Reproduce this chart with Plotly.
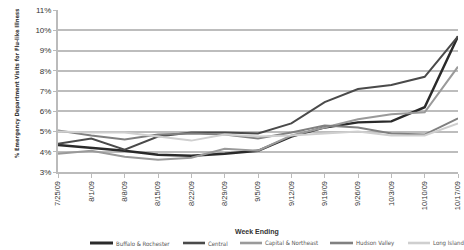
import plotly.graph_objects as go

weeks = ["7/25/09", "8/1/09", "8/8/09", "8/15/09", "8/22/09", "8/29/09", "9/5/09",
         "9/12/09", "9/19/09", "9/26/09", "10/3/09", "10/10/09", "10/17/09"]

buffalo_rochester = [4.33, 4.20, 4.05, 3.85, 3.80, 3.90, 4.05, 4.75, 5.20, 5.45, 5.50, 6.20, 9.70]
central = [4.40, 4.65, 4.10, 4.75, 4.95, 4.95, 4.90, 5.40, 6.45, 7.10, 7.30, 7.70, 9.70]
capital_northeast = [3.90, 4.05, 3.75, 3.60, 3.70, 4.15, 4.05, 4.80, 5.20, 5.60, 5.85, 5.95, 8.20]
hudson_valley = [5.05, 4.80, 4.60, 4.85, 4.90, 4.85, 4.65, 4.95, 5.30, 5.20, 4.90, 4.85, 5.65]
long_island = [5.00, 4.95, 4.95, 4.75, 4.55, 4.85, 4.75, 4.80, 4.90, 5.00, 4.80, 4.80, 5.40]

y_ticks = [3, 4, 5, 6, 7, 8, 9, 10, 11]
y_tick_labels = ["3%", "4%", "5%", "6%", "7%", "8%", "9%", "10%", "11%"]

series = [
    ("Buffalo & Rochester", buffalo_rochester, "#2a2a2a", 2.4),
    ("Central", central, "#4a4a4a", 2.0),
    ("Capital & Northeast", capital_northeast, "#9a9a9a", 2.0),
    ("Hudson Valley", hudson_valley, "#808080", 2.0),
    ("Long Island", long_island, "#cfcfcf", 2.0),
]

W, H = 464, 250
L, R, T, B = 58, 6, 10, 78
pw, ph = W - L - R, H - T - B

def px_x(x):
    return (x - L) / pw

def px_y(y):
    return (H - B - y) / ph

x_idx = list(range(len(weeks)))

fig = go.Figure()
for name, vals, color, w in series:
    fig.add_trace(go.Scatter(x=x_idx, y=vals, mode="lines", name=name,
                             line=dict(color=color, width=w), showlegend=False))

font_family = "Liberation Sans, Arial, sans-serif"
narrow = "Liberation Sans Narrow, DejaVu Sans Condensed, Arial Narrow, sans-serif"

# manual legend (line sample + label), laid out like the reference
legend_x = [(90, 113), (183, 205), (240, 262), (330, 353), (408, 430)]
legend_y = 243
shapes = []
annotations = []
for (name, vals, color, w), (x0, x1) in zip(series, legend_x):
    shapes.append(dict(type="line", xref="paper", yref="paper",
                       x0=px_x(x0), x1=px_x(x1), y0=px_y(legend_y), y1=px_y(legend_y),
                       line=dict(color=color, width=w + 0.6)))
    annotations.append(dict(text=name, xref="paper", yref="paper",
                            x=px_x(x1 + 1), y=px_y(legend_y), xanchor="left", yanchor="middle",
                            showarrow=False, font=dict(family=narrow, size=6, color="#555")))

annotations.append(dict(text="<b>Week Ending</b>", xref="paper", yref="paper",
                        x=px_x(257), y=px_y(232), xanchor="center", yanchor="middle",
                        showarrow=False, font=dict(family=font_family, size=7, color="#333")))
annotations.append(dict(text="<b>% Emergency Department Visits for Flu-like Illness</b>",
                        xref="paper", yref="paper", textangle=-90,
                        x=px_x(17), y=px_y(84), xanchor="center", yanchor="middle",
                        showarrow=False, font=dict(family=narrow, size=5.8, color="#333")))

fig.update_layout(
    width=W, height=H,
    margin=dict(l=L, r=R, t=T, b=B),
    paper_bgcolor="white", plot_bgcolor="white",
    font=dict(family=font_family, size=8, color="#333"),
    showlegend=False,
    shapes=shapes,
    annotations=annotations,
    xaxis=dict(
        range=[0, 12], tickvals=x_idx, ticktext=weeks,
        tickangle=-90, tickfont=dict(family=font_family, size=7.5, color="#333"),
        showgrid=False, showline=True, linecolor="#bbbbbb", linewidth=2,
        ticks="outside", ticklen=4, tickcolor="#bbbbbb", tickwidth=1,
        zeroline=False, automargin=False,
    ),
    yaxis=dict(
        range=[3, 11], tickvals=y_ticks, ticktext=y_tick_labels,
        tickfont=dict(family=font_family, size=8, color="#333"),
        showgrid=True, gridcolor="#bdbdbd", gridwidth=2,
        showline=True, linecolor="#bbbbbb", linewidth=2,
        ticks="outside", ticklen=3, tickcolor="#bbbbbb",
        zeroline=False, automargin=False,
    ),
)

fig.write_html("out.html", config={"displayModeBar": False},
               post_script="document.body.style.margin='0';document.body.style.padding='0';")
